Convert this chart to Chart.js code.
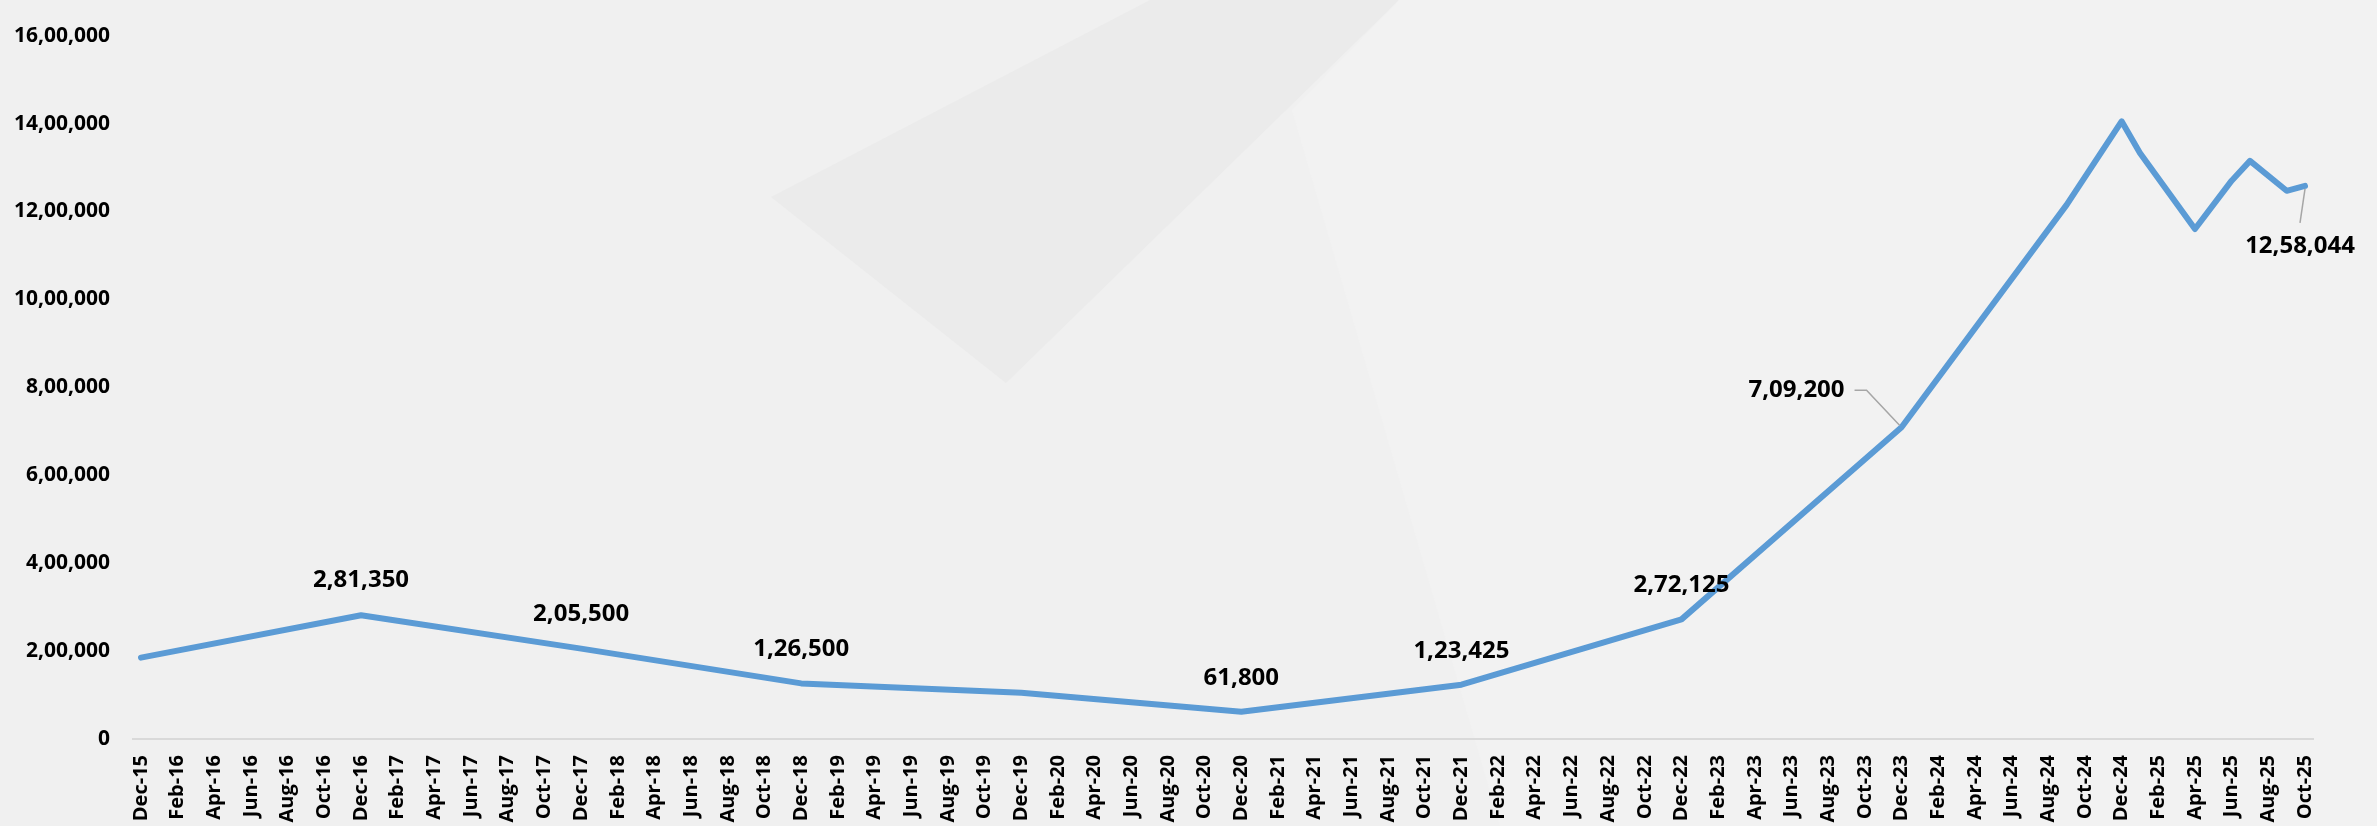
<!DOCTYPE html>
<html>
<head>
<meta charset="utf-8">
<script src="https://cdn.jsdelivr.net/npm/chart.js@4.4.1/dist/chart.umd.min.js"></script>
<style>
  html, body { margin: 0; padding: 0; background: #f1f1f1; }
  #wrap { width: 2377px; height: 826px; position: relative; }
</style>
</head>
<body>
<div id="wrap"><canvas id="chart"></canvas></div>
<script>
// data
const pointMonths = ["Dec-15", "Dec-16", "Dec-17", "Dec-18", "Dec-19", "Dec-20", "Dec-21", "Dec-22",
  "Dec-23", "Sep-24", "Dec-24", "Jan-25", "Apr-25", "Jun-25", "Jul-25", "Sep-25", "Oct-25"];
const pointValues = [185000, 281350, 205500, 126500, 105000, 61800, 123425, 272125,
  709200, 1215000, 1405000, 1333000, 1160000, 1270000, 1315000, 1247000, 1258044];
const labeledMonths = ["Dec-16", "Dec-17", "Dec-18", "Dec-20", "Dec-21", "Dec-22", "Dec-23", "Oct-25"];

const tickLabels = [
  "Dec-15",
  "Feb-16", "Apr-16", "Jun-16", "Aug-16", "Oct-16", "Dec-16",
  "Feb-17", "Apr-17", "Jun-17", "Aug-17", "Oct-17", "Dec-17",
  "Feb-18", "Apr-18", "Jun-18", "Aug-18", "Oct-18", "Dec-18",
  "Feb-19", "Apr-19", "Jun-19", "Aug-19", "Oct-19", "Dec-19",
  "Feb-20", "Apr-20", "Jun-20", "Aug-20", "Oct-20", "Dec-20",
  "Feb-21", "Apr-21", "Jun-21", "Aug-21", "Oct-21", "Dec-21",
  "Feb-22", "Apr-22", "Jun-22", "Aug-22", "Oct-22", "Dec-22",
  "Feb-23", "Apr-23", "Jun-23", "Aug-23", "Oct-23", "Dec-23",
  "Feb-24", "Apr-24", "Jun-24", "Aug-24", "Oct-24", "Dec-24",
  "Feb-25", "Apr-25", "Jun-25", "Aug-25", "Oct-25"
];

const MONTHS = ["Jan", "Feb", "Mar", "Apr", "May", "Jun", "Jul", "Aug", "Sep", "Oct", "Nov", "Dec"];

// months counted from Dec-15
function monthIndex(label) {
  const [m, y] = label.split("-");
  return (Number(y) - 15) * 12 + MONTHS.indexOf(m) - 11;
}

// indian digit grouping, 12,58,044
function fmtIN(n) {
  const s = String(Math.round(n));
  if (s.length <= 3) return s;
  const last3 = s.slice(-3);
  const rest = s.slice(0, -3).replace(/\B(?=(\d{2})+(?!\d))/g, ",");
  return rest + "," + last3;
}

const FONT = "'Open Sans'";

// label placement, relative to the point
const labelStyle = {
  "Dec-16": { dx: 0, dy: -35 },
  "Dec-17": { dx: 0, dy: -35 },
  "Dec-18": { dx: 0, dy: -34 },
  "Dec-20": { dx: 0, dy: -34 },
  "Dec-21": { dx: 0, dy: -34 },
  "Dec-22": { dx: 0, dy: -34 },
  "Dec-23": { dx: -105, dy: -37, leader: [[-47, -37], [-35, -37], [-2, -2]] },
  "Oct-25": { dx: -5, dy: 60, leader: [[-5, 37], [0, 3]] }
};

const backgroundPlugin = {
  id: "bg",
  beforeDraw(chart) {
    const c = chart.ctx;
    c.save();
    c.fillStyle = "#f0f0f0";
    c.fillRect(0, 0, chart.width, chart.height);
    // faint watermark shapes
    c.fillStyle = "#ebebeb";
    c.beginPath();
    c.moveTo(771, 197);
    c.lineTo(1150, 0);
    c.lineTo(1399, 0);
    c.lineTo(1006, 383);
    c.closePath();
    c.fill();
    c.fillStyle = "#f2f2f2";
    c.beginPath();
    c.moveTo(1399, 0);
    c.lineTo(2377, 0);
    c.lineTo(2377, 826);
    c.lineTo(1500, 826);
    c.lineTo(1292, 110);
    c.closePath();
    c.fill();
    c.restore();
  }
};

const labelPlugin = {
  id: "pointLabels",
  afterDatasetsDraw(chart) {
    const c = chart.ctx;
    const meta = chart.getDatasetMeta(0);
    c.save();
    c.font = "bold 24px " + FONT;
    c.textAlign = "center";
    c.textBaseline = "middle";
    pointMonths.forEach((m, i) => {
      if (!labeledMonths.includes(m)) return;
      const el = meta.data[i];
      const st = labelStyle[m] || { dx: 0, dy: -34 };
      if (st.leader) {
        c.strokeStyle = "#a6a6a6";
        c.lineWidth = 1.5;
        c.beginPath();
        st.leader.forEach(([lx, ly], k) => {
          if (k === 0) c.moveTo(el.x + lx, el.y + ly);
          else c.lineTo(el.x + lx, el.y + ly);
        });
        c.stroke();
      }
      c.fillStyle = "#000";
      c.fillText(fmtIN(pointValues[i]), el.x + st.dx, el.y + st.dy);
    });
    c.restore();
  }
};

function draw() {
  const ctx = document.getElementById("chart").getContext("2d");
  new Chart(ctx, {
    type: "line",
    data: {
      datasets: [{
        data: pointMonths.map((m, i) => ({ x: monthIndex(m), y: pointValues[i] })),
        borderColor: "#5b9bd5",
        borderWidth: 6,
        borderJoinStyle: "round",
        borderCapStyle: "round",
        pointRadius: 0,
        tension: 0,
        fill: false
      }]
    },
    options: {
      animation: false,
      responsive: true,
      maintainAspectRatio: false,
      devicePixelRatio: 1,
      layout: { padding: { left: 0, right: 64, top: 19, bottom: 0 } },
      plugins: { legend: { display: false }, tooltip: { enabled: false } },
      scales: {
        x: {
          type: "linear",
          min: -0.436,
          max: 118.436,
          afterBuildTicks(scale) {
            scale.ticks = tickLabels.map((l, i) => ({ value: i * 2 }));
          },
          afterFit(scale) { scale.height = 87; },
          grid: { display: false, drawTicks: false },
          border: { display: true, color: "#d9d9d9", width: 2 },
          ticks: {
            autoSkip: false,
            maxRotation: 90,
            minRotation: 90,
            padding: 16,
            color: "#000",
            font: { family: FONT, size: 20, weight: "bold" },
            callback: (v) => tickLabels[Math.round(v / 2)]
          }
        },
        y: {
          min: 0,
          max: 1600000,
          afterFit(scale) { scale.width = 133; },
          grid: { display: false, drawTicks: false },
          border: { display: false },
          ticks: {
            stepSize: 200000,
            padding: 23,
            color: "#000",
            font: { family: FONT, size: 21, weight: "bold" },
            callback: (v) => fmtIN(v)
          }
        }
      }
    },
    plugins: [backgroundPlugin, labelPlugin]
  });
}

document.fonts.load("bold 21px " + FONT).then(draw, draw);
</script>
</body>
</html>
